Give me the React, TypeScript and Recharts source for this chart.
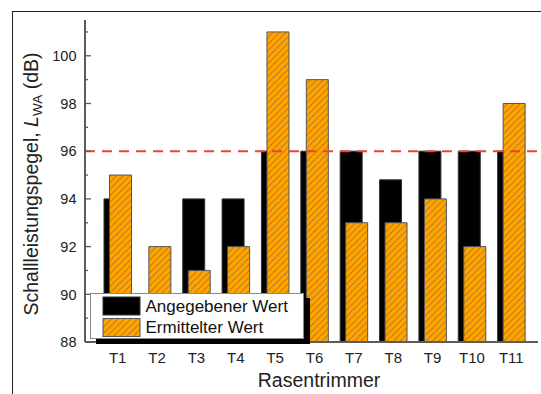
import React from 'react';
import { BarChart, Bar, XAxis, YAxis, ReferenceLine, Legend, Customized } from 'recharts';

const categories = ['T1', 'T2', 'T3', 'T4', 'T5', 'T6', 'T7', 'T8', 'T9', 'T10', 'T11'];
const angegeben: (number | null)[] = [94, null, 94, 94, 96, 96, 96, 94.8, 96, 96, 96];
const ermittelt: number[] = [95, 92, 91, 92, 101, 99, 93, 93, 94, 92, 98];
const yTicks = [88, 89, 90, 91, 92, 93, 94, 95, 96, 97, 98, 99, 100, 101];
const yLabelTicks = [88, 90, 92, 94, 96, 98, 100];
const grenzwert = 96;
const seriesNames = ['Angegebener Wert', 'Ermittelter Wert'];

const data = categories.map((name, i) => ({ name, angegeben: angegeben[i], ermittelt: ermittelt[i] }));

const FONT = '"Liberation Sans", Arial, Helvetica, sans-serif';
const ORANGE = '#FFA300';
const HATCH = '#7d6030';
const FRAME = '#5c5c5c';

const YTick = (props: any) => {
  const { x, y, payload } = props;
  const v = payload.value;
  const major = yLabelTicks.includes(v);
  return (
    <g>
      <line x1={x} y1={y} x2={x + (major ? 6 : 3)} y2={y} stroke={FRAME} strokeWidth={1.3} />
      {major && (
        <text x={x - 8.5} y={y} dy="0.36em" textAnchor="end" fontSize={14.5} fill="#222" fontFamily={FONT}>
          {v}
        </text>
      )}
    </g>
  );
};

const XTick = (props: any) => {
  const { x, y, payload } = props;
  return (
    <text x={x} y={y + 21} textAnchor="middle" fontSize={15} fill="#222" fontFamily={FONT}>
      {payload.value}
    </text>
  );
};

const Titles = () => (
  <g fontFamily={FONT} fill="#222">
    <text x={319} y={387} textAnchor="middle" fontSize={19.5}>
      Rasentrimmer
    </text>
    <text x={37.5} y={184} textAnchor="middle" fontSize={19.5} transform="rotate(-90 37.5 184)">
      <tspan>Schallleistungspegel, </tspan>
      <tspan fontStyle="italic">L</tspan>
      <tspan fontSize={13.5} dy={4}>WA</tspan>
      <tspan dy={-4}> (dB)</tspan>
    </text>
  </g>
);

const HatchPattern = ({ id }: { id: string }) => (
  <pattern id={id} patternUnits="userSpaceOnUse" width={6.5} height={6.5}>
    <rect width={6.5} height={6.5} fill={ORANGE} />
    <path d="M0,6.5 L6.5,0 M-1.5,1.5 L1.5,-1.5 M5,8 L8,5" stroke={HATCH} strokeWidth={0.75} />
  </pattern>
);

const LegendBox = () => (
  <div
    style={{
      width: 212,
      height: 44,
      background: '#fff',
      border: '1px solid #8a8a8a',
      boxShadow: '6px 5px 0 #000',
      position: 'relative',
      fontFamily: FONT,
    }}
  >
    <svg width={212} height={44} style={{ position: 'absolute', left: 0, top: 0 }}>
      <defs>
        <HatchPattern id="hatchLegend" />
      </defs>
      <rect x={12} y={3} width={37} height={18} fill="#000" stroke="#333" strokeWidth={1} />
      <rect x={12} y={24.5} width={37} height={18} fill="url(#hatchLegend)" stroke="#555" strokeWidth={1} />
      <text x={54.5} y={18} fontSize={17} fill="#111" fontFamily={FONT}>{seriesNames[0]}</text>
      <text x={54.5} y={39} fontSize={17} fill="#111" fontFamily={FONT}>{seriesNames[1]}</text>
    </svg>
  </div>
);

export default function App() {
  return (
    <div style={{ position: 'absolute', left: 0, top: 0, width: 541, height: 394, background: '#fff', overflow: 'hidden' }}>
      <div
        style={{
          position: 'absolute',
          left: 12,
          top: 11,
          width: 560,
          height: 420,
          borderLeft: '1px solid #222',
          borderTop: '1px solid #222',
        }}
      />
      <div style={{ position: 'absolute', left: 0, top: 0 }}>
        <BarChart
          width={541}
          height={394}
          data={data}
          margin={{ top: 20, right: 3, bottom: 22, left: 25 }}
          barSize={22}
          barGap={-16.5}
        >
          <defs>
            <HatchPattern id="hatchMain" />
          </defs>
          <XAxis
            dataKey="name"
            height={30}
            padding={{ left: 13, right: 7 }}
            tickLine={false}
            tickSize={0}
            tickMargin={0}
            tick={<XTick />}
            interval={0}
            axisLine={{ stroke: FRAME, strokeWidth: 2 }}
          />
          <XAxis
            xAxisId="top"
            orientation="top"
            dataKey="name"
            height={0}
            tick={false}
            tickLine={false}
            axisLine={{ stroke: FRAME, strokeWidth: 2 }}
          />
          <YAxis
            width={60}
            domain={[88, 101.5]}
            allowDataOverflow
            ticks={yTicks}
            interval={0}
            tickLine={false}
            tickSize={0}
            tickMargin={0}
            tick={<YTick />}
            axisLine={{ stroke: FRAME, strokeWidth: 2 }}
          />
          <YAxis
            yAxisId="right"
            orientation="right"
            width={0}
            tick={false}
            tickLine={false}
            axisLine={{ stroke: FRAME, strokeWidth: 2 }}
          />
          <Bar dataKey="angegeben" name={seriesNames[0]} fill="#000" stroke="#333" strokeWidth={1} isAnimationActive={false} />
          <Bar dataKey="ermittelt" name={seriesNames[1]} fill="url(#hatchMain)" stroke="#555" strokeWidth={1} isAnimationActive={false} />
          <ReferenceLine y={grenzwert} stroke="#E8472C" strokeWidth={2} strokeDasharray="10 7" />
          <Customized component={Titles} />
          <Legend
            layout="vertical"
            align="center"
            verticalAlign="middle"
            content={() => <LegendBox />}
            wrapperStyle={{ position: 'absolute', left: 90, top: 293, width: 214, height: 46 }}
          />
        </BarChart>
      </div>
    </div>
  );
}
